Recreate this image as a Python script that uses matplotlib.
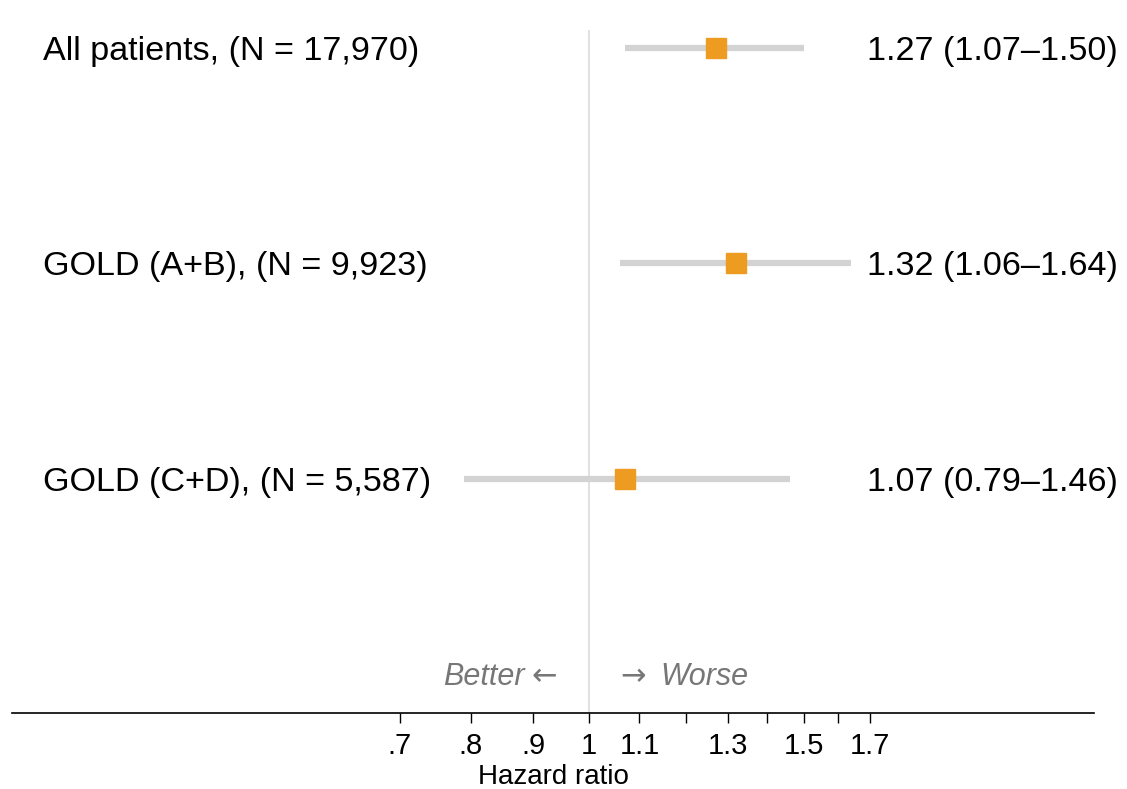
import matplotlib
matplotlib.use("Agg")
import matplotlib.pyplot as plt
import matplotlib.transforms as mtrans
from matplotlib.ticker import FixedLocator, NullLocator

plt.rcParams['font.family'] = ['Liberation Sans', 'DejaVu Sans']

labels = ["All patients, (N = 17,970)", "GOLD (A+B), (N = 9,923)", "GOLD (C+D), (N = 5,587)"]
hr = [1.27, 1.32, 1.07]
lo = [1.07, 1.06, 0.79]
hi = [1.50, 1.64, 1.46]
hr_text = ["1.27 (1.07\u20131.50)", "1.32 (1.06\u20131.64)", "1.07 (0.79\u20131.46)"]
ypos = [3, 2, 1]
tick_vals = [0.7, 0.8, 0.9, 1.0, 1.1, 1.2, 1.3, 1.4, 1.5, 1.6, 1.7]
tick_labels = [".7", ".8", ".9", "1", "1.1", "", "1.3", "", "1.5", "", "1.7"]

fig = plt.figure(figsize=(11.27, 7.89), dpi=100)
ax = fig.add_axes([12/1127, 76/789, (1094-12)/1127, (713-30)/789])
ax.set_xscale('log')
ax.set_xlim(0.3367, 2.593)
ax.set_ylim(-0.086, 3.0835)

ax.axvline(1.0, color='#dedede', lw=1.3, zorder=1)

tr = mtrans.blended_transform_factory(fig.transFigure, ax.transData)
for y, h, l, u, lab, t in zip(ypos, hr, lo, hi, labels, hr_text):
    ax.plot([l, u], [y, y], color='#d3d3d3', lw=4.5, solid_capstyle='butt', zorder=2)
    ax.plot([h], [y], marker='s', ms=14, color='#EE9B22', mec='#EE9B22', ls='none', zorder=3)
    ax.text(43/1127, y, lab, transform=tr, ha='left', va='center_baseline',
            fontsize=24.6, color='black')
    ax.text(1118/1127, y, t, transform=tr, ha='right', va='center_baseline',
            fontsize=24.6, color='black')

ax.annotate("Better", xy=(1.0, 0.095), xytext=(-64, 0), textcoords='offset pixels',
            ha='right', va='center_baseline', fontsize=22, style='italic', color='#777777')
ax.annotate("\u2190", xy=(1.0, 0.095), xytext=(-32, 0), textcoords='offset pixels',
            ha='right', va='center_baseline', fontsize=22, color='#777777',
            family=['DejaVu Sans'])
ax.annotate("\u2192", xy=(1.0, 0.095), xytext=(31, 0), textcoords='offset pixels',
            ha='left', va='center_baseline', fontsize=22, color='#777777',
            family=['DejaVu Sans'])
ax.annotate("Worse", xy=(1.0, 0.095), xytext=(71, 0), textcoords='offset pixels',
            ha='left', va='center_baseline', fontsize=22, style='italic', color='#777777')

for s in ['top', 'right', 'left']:
    ax.spines[s].set_visible(False)
ax.spines['bottom'].set_linewidth(1.2)
ax.yaxis.set_major_locator(NullLocator())
ax.xaxis.set_major_locator(FixedLocator(tick_vals))
ax.xaxis.set_minor_locator(NullLocator())
ax.set_xticklabels(tick_labels)
ax.tick_params(axis='x', direction='out', length=7.5, width=1, labelsize=21, pad=6)
ax.set_xlabel("Hazard ratio", fontsize=20, labelpad=3)

fig.savefig("out.png", dpi=100)
